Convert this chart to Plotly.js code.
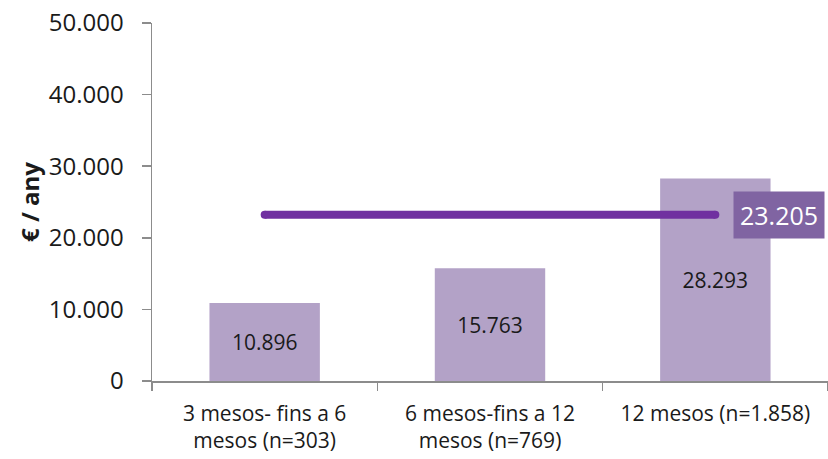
<!DOCTYPE html>
<html><head><meta charset="utf-8">
<script src="https://cdn.plot.ly/plotly-3.0.1.min.js"></script>
<style>html,body{margin:0;padding:0;background:#fff}#c{width:828px;height:459px}</style>
</head><body><div id="c"></div>
<script>
const categories = ["3 mesos- fins a 6<br>mesos (n=303)", "6 mesos-fins a 12<br>mesos (n=769)", "12 mesos (n=1.858)"];
const values = [10896, 15763, 28293];
const average = 23205;
const avgLabel = "23.205";
const yTicks = [0, 10000, 20000, 30000, 40000, 50000];

const font = "'Open Sans', 'Noto Sans', sans-serif";
const data = [
  {
    type: "bar", x: categories, y: values,
    marker: {color: "#b3a2c7"},
    texttemplate: "%{y:,d}", textposition: "inside", insidetextanchor: "middle",
    textfont: {family: font, size: 21, color: "#1a1a1a"},
    hoverinfo: "none", showlegend: false
  },
  {
    type: "scatter", mode: "lines+markers",
    x: [categories[0], categories[2]], y: [average, average],
    line: {color: "#7030a0", width: 8},
    marker: {color: "#7030a0", size: 8, line: {width: 0}},
    hoverinfo: "none", showlegend: false
  }
];
const layout = {
  width: 828, height: 459,
  margin: {l: 152, r: 0, t: 23, b: 78},
  separators: ",.",
  paper_bgcolor: "#fff", plot_bgcolor: "#fff",
  bargap: 0.51,
  font: {family: font, color: "#1a1a1a"},
  xaxis: {
    type: "category", showline: true, linecolor: "#8c8c8c", linewidth: 1.5,
    ticks: "outside", tickson: "boundaries", ticklen: 8, tickcolor: "#8c8c8c", tickwidth: 1.5,
    ticklabelstandoff: 13,
    tickfont: {family: font, size: 21, color: "#1a1a1a"}, showgrid: false, zeroline: false
  },
  yaxis: {
    range: [0, 50000], tickvals: yTicks, tickformat: ",d",
    showline: true, linecolor: "#8c8c8c", linewidth: 1.5,
    ticks: "outside", ticklen: 9, tickcolor: "#8c8c8c", tickwidth: 1.5,
    ticklabelstandoff: 13,
    tickfont: {family: font, size: 24, color: "#1a1a1a"},
    showgrid: false, zeroline: false,
    title: {text: "<b>€ / any</b>", font: {family: font, size: 24, color: "#1a1a1a"}, standoff: 2}
  },
  annotations: [{
    x: categories[2], y: average, xref: "x", yref: "y",
    text: avgLabel, showarrow: false, xanchor: "left", yanchor: "middle", xshift: 18,
    bgcolor: "#8064a2", borderpad: 6,
    font: {family: font, size: 25, color: "#ffffff"}
  }]
};
Plotly.newPlot("c", data, layout, {staticPlot: true, displayModeBar: false});
</script>
</body></html>
